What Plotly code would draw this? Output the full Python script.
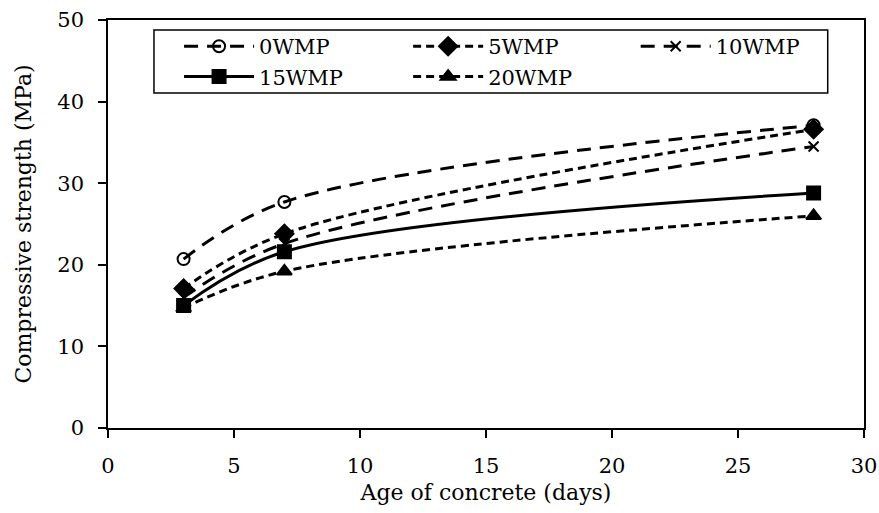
import plotly.graph_objects as go

days = [3, 7, 28]
series_names = ["0WMP", "5WMP", "10WMP", "15WMP", "20WMP"]
wmp0 = [20.7, 27.7, 37.1]
wmp5 = [17.1, 23.8, 36.6]
wmp10 = [16.0, 22.6, 34.5]
wmp15 = [15.0, 21.6, 28.8]
wmp20 = [14.7, 19.2, 26.0]
x_ticks = [0, 5, 10, 15, 20, 25, 30]
y_ticks = [0, 10, 20, 30, 40, 50]

FONT = "DejaVu Serif"
FS = 21
styles = [
    (wmp0, "14px,9px", "circle-open", 12, "legend"),
    (wmp5, "8px,5px", "diamond", 14, "legend2"),
    (wmp10, "14px,9px", "x-thin-open", 10, "legend3"),
    (wmp15, "solid", "square", 13, "legend"),
    (wmp20, "8px,5px", "triangle-up", 13, "legend2"),
]

fig = go.Figure()
for name, (vals, dash, sym, size, lg) in zip(series_names, styles):
    fig.add_trace(go.Scatter(
        x=days, y=vals, name=name, mode="lines+markers", legend=lg,
        line=dict(color="black", width=3, dash=dash, shape="spline", smoothing=1.0),
        marker=dict(symbol=sym, size=size, color="black",
                    line=dict(color="black", width=2)),
    ))

axis_common = dict(
    showgrid=False, zeroline=False, showline=True, linecolor="black", linewidth=1.5,
    mirror=True, ticks="outside", ticklen=8, tickwidth=1.5, tickcolor="black",
    tickfont=dict(family=FONT, size=FS, color="black"), automargin=False,
)
fig.update_xaxes(range=[0, 30], tickvals=x_ticks, ticklabelstandoff=10,
                 title=dict(text="Age of concrete (days)", font=dict(family=FONT, size=22, color="black"), standoff=8),
                 **axis_common)
fig.update_yaxes(range=[0, 50], tickvals=y_ticks, ticklabelstandoff=10,
                 title=dict(text="Compressive strength (MPa)", font=dict(family=FONT, size=22, color="black"), standoff=20),
                 **axis_common)

fig.add_shape(type="rect", xref="paper", yref="paper",
              x0=0.0608, x1=0.952, y0=0.821, y1=0.9755,
              line=dict(color="black", width=1.5), fillcolor="rgba(0,0,0,0)", layer="above")

leg_common = dict(
    orientation="v", yanchor="top", xanchor="left", y=0.985,
    borderwidth=0, bgcolor="rgba(255,255,255,0)",
    font=dict(family=FONT, size=FS, color="black"),
    itemwidth=70, tracegroupgap=0,
)

fig.update_layout(
    width=879, height=513,
    margin=dict(l=108, r=15, t=20, b=85),
    plot_bgcolor="white", paper_bgcolor="white",
    font=dict(family=FONT, color="black"),
    legend=dict(x=0.094, **leg_common),
    legend2=dict(x=0.397, **leg_common),
    legend3=dict(x=0.698, **leg_common),
)

fig.write_html("out.html",
               config={"displayModeBar": False},
               post_script="document.body.style.margin='0';document.body.style.overflow='hidden';")
